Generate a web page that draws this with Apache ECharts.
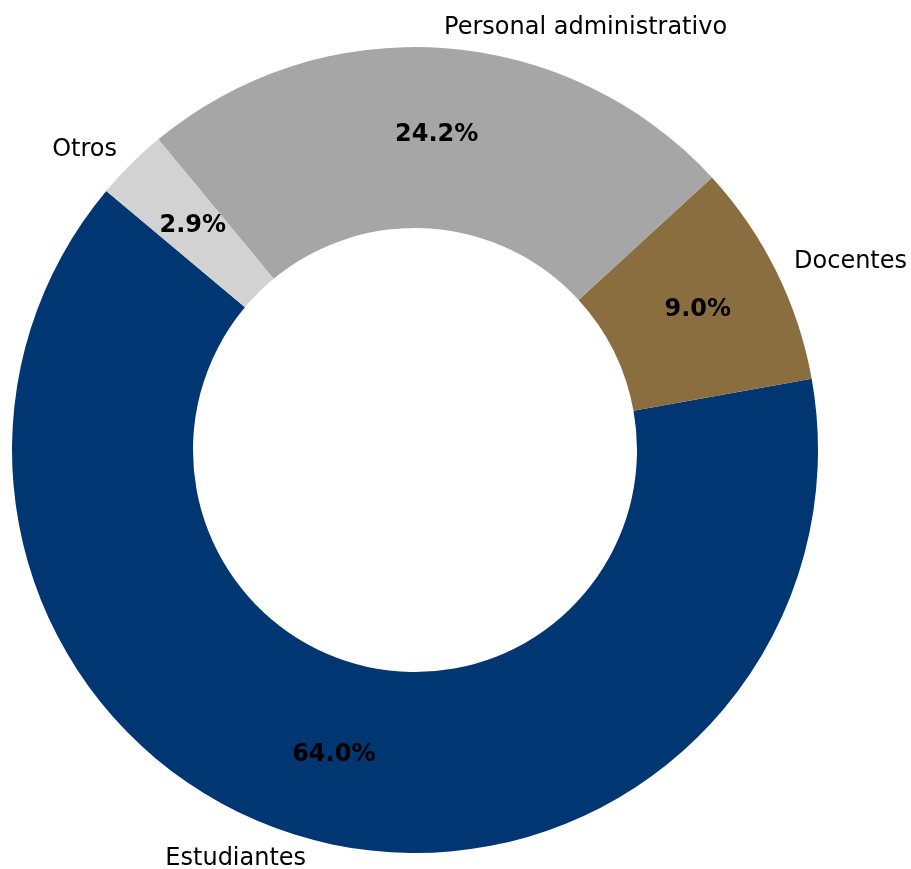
<!DOCTYPE html>
<html>
<head>
<meta charset="utf-8">
<script src="https://cdn.jsdelivr.net/npm/echarts@6/dist/echarts.min.js"></script>
<style>
  html, body { margin: 0; padding: 0; background: #fff; }
  #chart { width: 911px; height: 869px; }
</style>
</head>
<body>
<div id="chart"></div>
<script>
const categories = ['Estudiantes', 'Docentes', 'Personal administrativo', 'Otros'];
const shares = [64.0, 9.0, 24.2, 2.9];
const colors = ['#003671', '#8b6e3f', '#a6a6a6', '#d2d2d2'];

const pieData = categories.map((name, i) => ({
  name: name,
  value: shares[i],
  itemStyle: { color: colors[i] }
}));

const common = {
  type: 'pie',
  center: [415, 450],
  radius: [222, 403],
  startAngle: 140,
  clockwise: false,
  avoidLabelOverlap: false,
  silent: true,
  animation: false,
  data: pieData
};

const chart = echarts.init(document.getElementById('chart'));
chart.setOption({
  backgroundColor: '#ffffff',
  series: [
    Object.assign({}, common, {
      name: 'outer',
      itemStyle: { borderColor: '#ffffff', borderWidth: 2 },
      label: {
        show: true,
        position: 'outside',
        fontFamily: 'DejaVu Sans',
        fontSize: 24,
        color: '#000',
        distanceToLabelLine: 0,
        formatter: '{b}'
      },
      labelLine: { show: false, length: 20, length2: 0 }
    }),
    Object.assign({}, common, {
      name: 'inner',
      itemStyle: { color: 'transparent', borderWidth: 0 },
      label: {
        show: true,
        position: 'inside',
        fontFamily: 'DejaVu Sans',
        fontSize: 24,
        fontWeight: 'bold',
        color: '#000',
        formatter: (p) => p.value.toFixed(1) + '%'
      },
      labelLine: { show: false }
    })
  ]
});
</script>
</body>
</html>
